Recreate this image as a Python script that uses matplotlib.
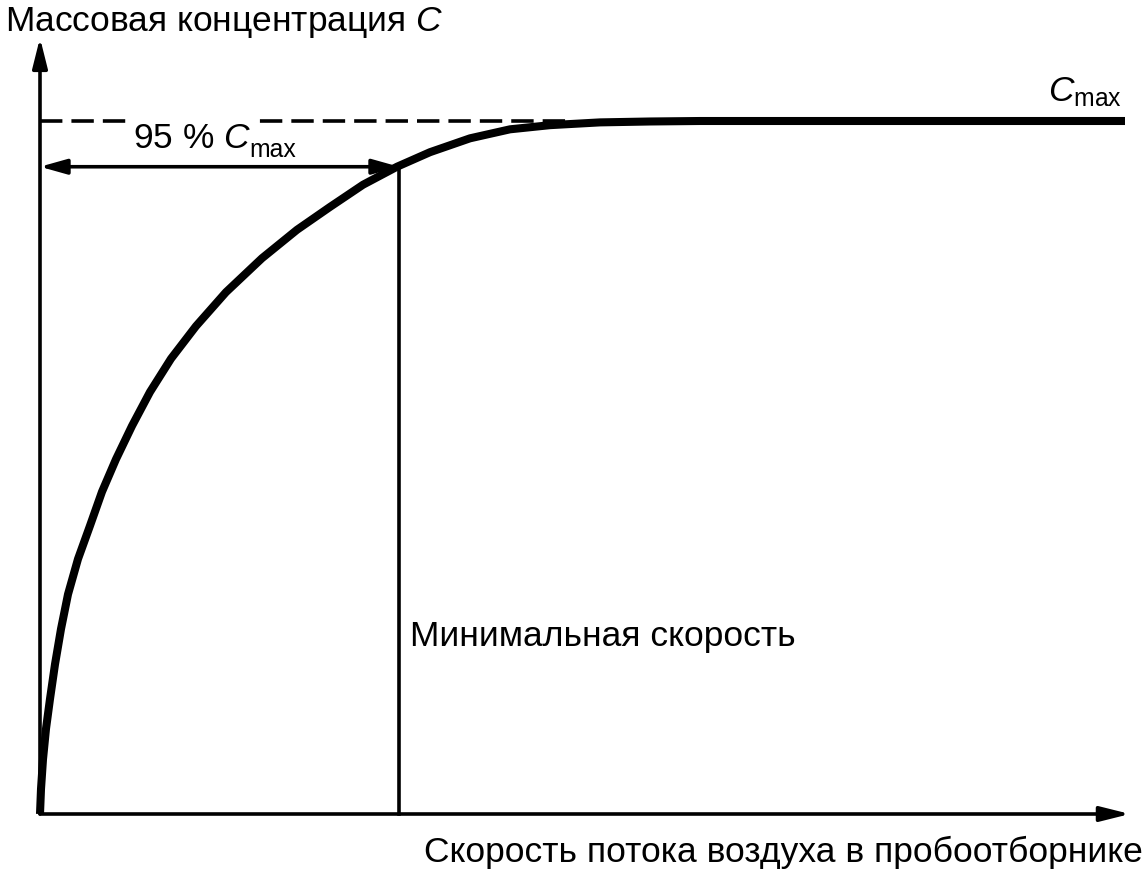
import matplotlib
matplotlib.use("Agg")
import matplotlib.pyplot as plt

plt.rcParams['font.family'] = ['Liberation Sans', 'DejaVu Sans']
plt.rcParams['mathtext.fontset'] = 'custom'
plt.rcParams['mathtext.rm'] = 'Liberation Sans'
plt.rcParams['mathtext.it'] = 'Liberation Sans:italic'
plt.rcParams['mathtext.bf'] = 'Liberation Sans:bold'

# ---- data (concentration as a fraction of C_max) ----
speed = [0.00, 0.01, 0.03, 0.06, 0.10, 0.15, 0.21, 0.28, 0.38, 0.50, 0.62, 0.76,
         0.92, 1.10, 1.31, 1.56, 1.86, 2.22, 2.57, 2.90, 3.23, 3.57, 3.90, 4.30,
         4.70, 5.10, 5.60, 6.10, 6.60, 10.85]
concentration = [0.000, 0.036, 0.079, 0.123, 0.166, 0.216, 0.267, 0.317, 0.368,
                 0.416, 0.465, 0.512, 0.560, 0.609, 0.657, 0.704, 0.753, 0.802,
                 0.843, 0.876, 0.908, 0.934, 0.955, 0.975, 0.988, 0.994, 0.998,
                 0.9993, 1.000, 1.000]
c_max = 1.0
c95_level = 0.934
min_speed = 3.59
dash_end = 5.3
x_axis_end = 10.90
y_axis_end = 1.12

title_y = "Массовая концентрация $\\mathit{C}$"
title_x = "Скорость потока воздуха в пробоотборнике"
label_min = "Минимальная скорость"
label_95_main = "95 % $\\mathit{C}$"
label_95_sub = "max"
label_cmax = "$\\mathit{C}_{\\mathrm{max}}$"

W, H = 1146, 870
fig = plt.figure(figsize=(W / 100, H / 100), dpi=100)
ax = fig.add_axes([0, 0, 1, 1])
ax.set_xlim(-0.40, 11.06)
ax.set_ylim(-55 / 693, 815 / 693)
ax.axis('off')

FS = 25.5
thin = 2.6
tf = fig.transFigure

# axes with arrows
ax.annotate("", xy=(0, y_axis_end), xytext=(0, 0),
            arrowprops=dict(arrowstyle="-|>,head_length=1.8,head_width=0.45",
                            lw=thin, color='black', mutation_scale=10,
                            shrinkA=0, shrinkB=0))
ax.annotate("", xy=(x_axis_end, 0), xytext=(0, 0),
            arrowprops=dict(arrowstyle="-|>,head_length=1.8,head_width=0.45",
                            lw=thin, color='black', mutation_scale=10,
                            shrinkA=0, shrinkB=0))

# dashed C_max reference
ax.plot([0, dash_end], [c_max, c_max], color='black', lw=thin,
        dashes=(6.2, 2.5), solid_capstyle='butt', zorder=1.5)

# vertical line at minimal speed
ax.plot([min_speed, min_speed], [0, c95_level], color='black', lw=thin, zorder=3)

# "95 % C" interrupts the dashed line; subscript "max" does not
t95 = ax.text(133 / W, 1 - 148 / H, label_95_main, transform=tf, fontsize=FS,
              ha='left', va='baseline', zorder=3.5,
              bbox=dict(facecolor='white', edgecolor='none', pad=5))

# 95 % double arrow (drawn over the label's white box)
ax.annotate("", xy=(min_speed, c95_level), xytext=(0, c95_level),
            arrowprops=dict(arrowstyle="<|-|>,head_length=1.6,head_width=0.45",
                            lw=thin, color='black', mutation_scale=10,
                            shrinkA=0, shrinkB=0), zorder=4)

# curve
ax.plot(speed, concentration, color='black', lw=5.8, solid_joinstyle='round',
        solid_capstyle='butt', zorder=5)

# texts
ax.text(5 / W, 1 - 31 / H, title_y, transform=tf, fontsize=FS, ha='left', va='baseline')
ax.text(1143 / W, 1 - 862 / H, title_x, transform=tf, fontsize=FS, ha='right', va='baseline')
ax.text(410 / W, 1 - 646 / H, label_min, transform=tf, fontsize=FS, ha='left', va='baseline')
ax.text(1122 / W, 1 - 101 / H, label_cmax, transform=tf, fontsize=FS, ha='right', va='baseline')

fig.canvas.draw()
ext = t95.get_window_extent(renderer=fig.canvas.get_renderer())
ax.text((ext.x1 - 2) / W, 1 - 157 / H, label_95_sub, transform=tf,
        fontsize=FS * 0.7, ha='left', va='baseline', zorder=6)

fig.savefig("out.png", dpi=100)
